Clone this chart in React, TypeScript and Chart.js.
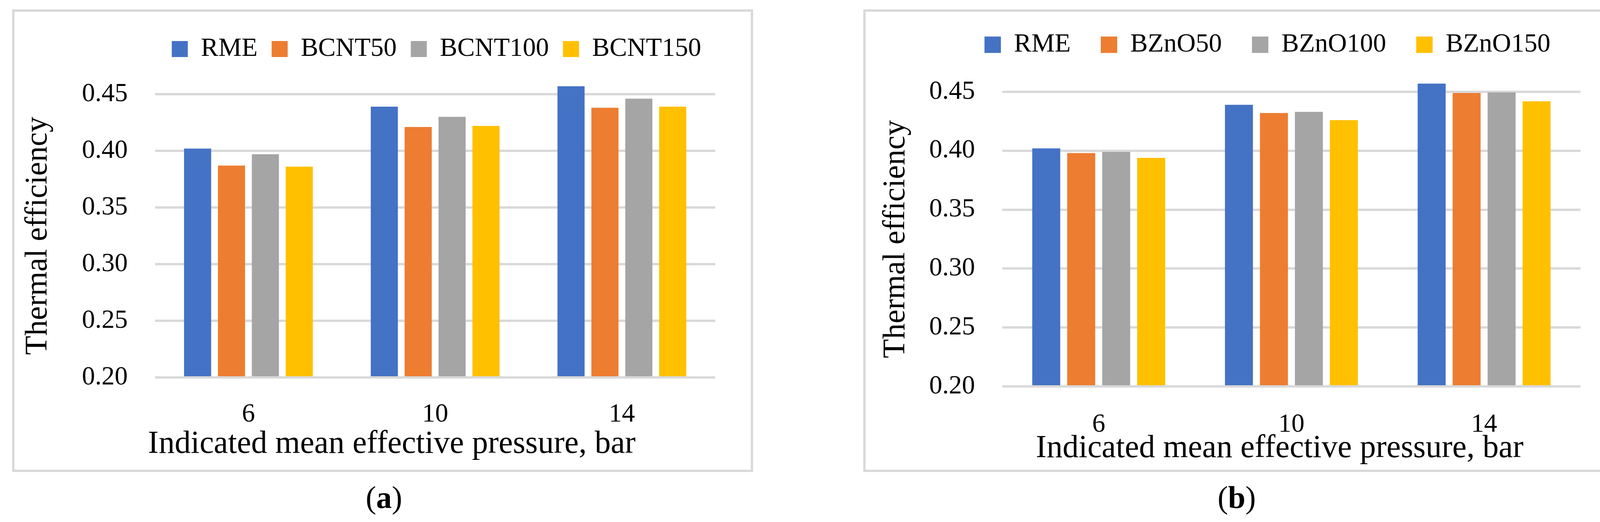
import React, { useEffect, useRef } from 'react';
import { Chart, registerables } from 'chart.js';

Chart.register(...registerables);

// ---------- data ----------
const categories = ['6', '10', '14'];

const seriesNamesA = ['RME', 'BCNT50', 'BCNT100', 'BCNT150'];
const rmeA = [0.402, 0.439, 0.457];
const bcnt50 = [0.387, 0.421, 0.438];
const bcnt100 = [0.397, 0.43, 0.446];
const bcnt150 = [0.386, 0.422, 0.439];

const seriesNamesB = ['RME', 'BZnO50', 'BZnO100', 'BZnO150'];
const rmeB = [0.402, 0.439, 0.457];
const bzno50 = [0.398, 0.432, 0.449];
const bzno100 = [0.399, 0.433, 0.4495];
const bzno150 = [0.394, 0.426, 0.442];

const yMin = 0.2;
const yMax = 0.45;
const yStep = 0.05;

const yTitle = 'Thermal efficiency';
const xTitle = 'Indicated mean effective pressure, bar';
const captions = ['a', 'b'];

const colors = ['#4472C4', '#ED7D31', '#A5A5A5', '#FFC000'];
const FONT = '"Liberation Serif", "Times New Roman", serif';

type PanelLayout = {
  canvasLeft: number;
  width: number;
  height: number;
  padTop: number;
  padRight: number;
  yAxisWidth: number;
  yTitlePad: number;
  yTickPad: number;
  xAxisHeight: number;
  xTickPad: number;
  legendPad: number;
  legendExtra: number;
  boxSize: number;
  xTitleX: number;
  xTitleY: number;
};

const layoutA: PanelLayout = {
  canvasLeft: 0,
  width: 1900,
  height: 1205,
  padTop: 56,
  padRight: 69,
  yAxisWidth: 397,
  yTitlePad: 50,
  yTickPad: 70,
  xAxisHeight: 239,
  xTickPad: 55,
  legendPad: 36,
  legendExtra: 72,
  boxSize: 41,
  xTitleX: 1003,
  xTitleY: 1159,
};

const layoutB: PanelLayout = {
  canvasLeft: 2200,
  width: 1900,
  height: 1205,
  padTop: 4,
  padRight: 54,
  yAxisWidth: 366,
  yTitlePad: 46,
  yTickPad: 70,
  xAxisHeight: 216,
  xTickPad: 58,
  legendPad: 77,
  legendExtra: 77,
  boxSize: 42,
  xTitleX: 1076,
  xTitleY: 1170,
};

function BarPanel({ names, series, layout }: { names: string[]; series: number[][]; layout: PanelLayout }) {
  const ref = useRef<HTMLCanvasElement>(null);

  useEffect(() => {
    const canvas = ref.current;
    if (!canvas) return;

    const legendGap = {
      id: 'legendGap',
      beforeInit(chart: any) {
        const lg = chart.legend;
        if (!lg) return;
        const orig = lg.fit;
        lg.fit = function () {
          orig.call(this);
          if (this.options && this.options.display) this.height += layout.legendExtra;
        };
      },
    };

    const xTitlePlugin = {
      id: 'xTitlePlugin',
      afterDraw(chart: any) {
        const ctx = chart.ctx;
        ctx.save();
        ctx.font = `82px ${FONT}`;
        ctx.fillStyle = '#000';
        ctx.textAlign = 'center';
        ctx.textBaseline = 'alphabetic';
        ctx.fillText(xTitle, layout.xTitleX, layout.xTitleY);
        ctx.restore();
      },
    };

    const chart = new Chart(canvas, {
      type: 'bar',
      data: {
        labels: categories,
        datasets: names.map((name, i) => ({
          label: name,
          data: series[i],
          backgroundColor: colors[i],
          borderWidth: 0,
          barPercentage: 0.8,
          categoryPercentage: 0.726,
          base: yMin,
          clip: false as any,
        })),
      },
      options: {
        responsive: false,
        animation: false,
        events: [],
        layout: { padding: { top: layout.padTop, right: layout.padRight, bottom: 0, left: 0 } },
        plugins: {
          legend: {
            display: true,
            position: 'top',
            align: 'end',
            labels: {
              boxWidth: layout.boxSize,
              boxHeight: layout.boxSize,
              padding: layout.legendPad,
              color: '#000',
              font: { family: FONT, size: 67 },
            },
          },
          tooltip: { enabled: false },
          title: { display: false },
        },
        scales: {
          x: {
            grid: { display: false, drawTicks: false, tickLength: 0 },
            border: { display: false },
            ticks: {
              color: '#000',
              font: { family: FONT, size: 67 },
              padding: layout.xTickPad,
              maxRotation: 0,
              autoSkip: false,
            },
            afterFit: (s: any) => {
              s.height = layout.xAxisHeight;
            },
          },
          y: {
            min: yMin,
            max: yMax,
            grid: { color: '#d9d9d9', lineWidth: 6, drawTicks: false, tickLength: 0 },
            border: { display: false },
            ticks: {
              stepSize: yStep,
              color: '#000',
              font: { family: FONT, size: 67 },
              padding: layout.yTickPad,
              callback: (v: any) => Number(v).toFixed(2),
            },
            title: {
              display: true,
              text: yTitle,
              color: '#000',
              font: { family: FONT, size: 80 },
              padding: { top: layout.yTitlePad, bottom: 0 },
            },
            afterFit: (s: any) => {
              s.width = layout.yAxisWidth;
            },
          },
        },
      } as any,
      plugins: [legendGap, xTitlePlugin],
    });

    return () => {
      chart.destroy();
    };
  }, [names, series, layout]);

  return (
    <canvas
      ref={ref}
      width={layout.width}
      height={layout.height}
      style={{
        position: 'absolute',
        left: layout.canvasLeft,
        top: 0,
        width: layout.width,
        height: layout.height,
      }}
    />
  );
}

const seriesA = [rmeA, bcnt50, bcnt100, bcnt150];
const seriesB = [rmeB, bzno50, bzno100, bzno150];

export default function App() {
  const boxStyle = (left: number, width: number): React.CSSProperties => ({
    position: 'absolute',
    left,
    top: 24,
    width,
    height: 1184,
    border: '6px solid #d9d9d9',
    boxSizing: 'border-box',
  });
  const captionStyle = (cx: number): React.CSSProperties => ({
    position: 'absolute',
    left: cx - 150,
    width: 300,
    top: 1233,
    fontSize: 80,
    lineHeight: '80px',
    textAlign: 'center',
    fontFamily: FONT,
    color: '#000',
  });

  return (
    <div
      style={{
        position: 'absolute',
        left: 0,
        top: 0,
        width: 4132,
        height: 1336,
        background: '#ffffff',
        overflow: 'hidden',
      }}
    >
      <div style={boxStyle(31, 1897)} />
      <div style={boxStyle(2210, 1898)} />
      <BarPanel names={seriesNamesA} series={seriesA} layout={layoutA} />
      <BarPanel names={seriesNamesB} series={seriesB} layout={layoutB} />
      <div style={captionStyle(983)}>
        (<b>{captions[0]}</b>)
      </div>
      <div style={captionStyle(3166)}>
        (<b>{captions[1]}</b>)
      </div>
    </div>
  );
}
